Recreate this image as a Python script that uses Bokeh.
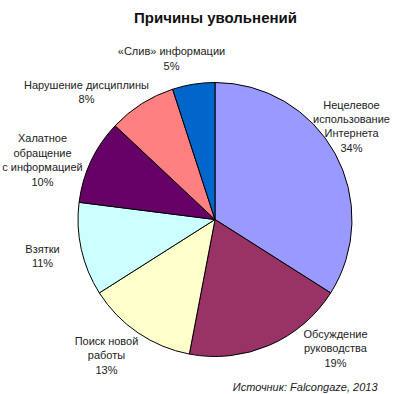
import math
from bokeh.plotting import figure
from bokeh.models import ColumnDataSource, Range1d
from bokeh.core.properties import value
from bokeh.embed import file_html
from bokeh.resources import INLINE

title = "Причины увольнений"
categories = ["Нецелевое\nиспользование\nИнтернета", "Обсуждение\nруководства",
              "Поиск новой\nработы", "Взятки", "Халатное\nобращение\nс информацией",
              "Нарушение дисциплины", "«Слив» информации"]
values = [34, 19, 13, 11, 10, 8, 5]
colors = ["#9999FF", "#993366", "#FFFFCC", "#CCFFFF", "#660066", "#FF8080", "#0066CC"]
source_note = "Источник: Falcongaze, 2013"

# layout (screen pixel positions of label block centres)
label_pos = [(351, 125.75), (335, 347.7), (106, 354.7), (42, 255.5),
             (42, 159.5), (86, 91.5), (171, 58)]
W, H = 400, 394
cx, cy, r = 214.5, H - 219, 137

total = sum(values)
cum = [0]
for v in values:
    cum.append(cum[-1] + v / total)
starts = [math.pi / 2 - 2 * math.pi * cum[i + 1] for i in range(len(values))]
ends = [math.pi / 2 - 2 * math.pi * cum[i] for i in range(len(values))]

src = ColumnDataSource(dict(start=starts, end=ends, color=colors))

p = figure(width=W, height=H, output_backend="svg", toolbar_location=None,
           x_range=Range1d(0, W), y_range=Range1d(0, H), min_border=0)
p.axis.visible = False
p.grid.visible = False
p.outline_line_color = None
p.background_fill_color = "white"

p.wedge(x=cx, y=cy, radius=r, start_angle="start", end_angle="end",
        fill_color="color", line_color="black", line_width=1, source=src)

lab = ColumnDataSource(dict(
    x=[pt[0] for pt in label_pos],
    y=[H - pt[1] for pt in label_pos],
    t=[c + "\n" + f"{v}%" for c, v in zip(categories, values)]))
p.text(x="x", y="y", text="t", source=lab, text_align="center", text_baseline="middle",
       text_font=value("Liberation Sans"), text_font_size="11px", text_color="#222222",
       text_line_height=1.2)

p.text(x=[215], y=[H - 17], text=[title], text_align="center", text_baseline="middle",
       text_font=value("Liberation Sans"), text_font_size="15px", text_font_style="bold",
       text_color="#111111")
p.text(x=[377], y=[H - 386], text=[source_note], text_align="right", text_baseline="middle",
       text_font=value("Liberation Sans"), text_font_size="11px", text_font_style="italic",
       text_color="#222222")

open("out.html", "w").write(file_html(p, INLINE))
